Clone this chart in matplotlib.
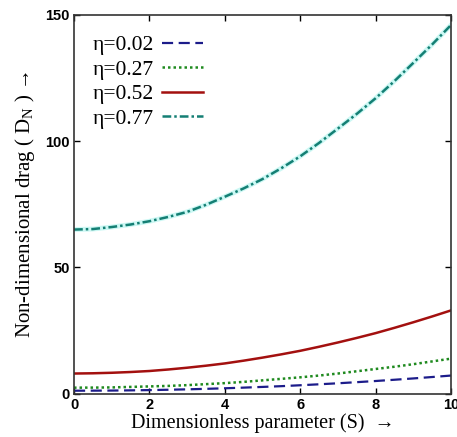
import matplotlib
matplotlib.use("Agg")
import matplotlib.pyplot as plt

# Dimensionless parameter S and drag values for each eta
S = [0, 0.5, 1, 1.5, 2, 2.5, 3, 3.5, 4, 4.5, 5, 5.5, 6, 6.5, 7, 7.5, 8, 8.5, 9, 9.5, 10]
drag_002 = [1.2, 1.22, 1.26, 1.34, 1.44, 1.58, 1.74, 1.94, 2.16, 2.42, 2.7,
            3.0, 3.36, 3.74, 4.14, 4.58, 5.04, 5.54, 6.06, 6.62, 7.2]
drag_027 = [2.4, 2.43, 2.5, 2.7, 2.9, 3.1, 3.4, 3.8, 4.2, 4.7, 5.3,
            5.9, 6.5, 7.2, 8.0, 8.9, 9.8, 10.7, 11.7, 12.8, 13.9]
drag_052 = [8.0, 8.1, 8.3, 8.6, 9.0, 9.6, 10.3, 11.1, 12.0, 13.1, 14.3,
            15.6, 17.0, 18.6, 20.3, 22.1, 24.0, 26.1, 28.3, 30.6, 33.0]
drag_077 = [65.0, 65.2, 66.0, 67.0, 68.3, 70.0, 72.0, 74.8, 78.0, 81.3, 85.0,
            89.3, 94.0, 99.3, 105.0, 110.8, 117.0, 123.8, 131.0, 138.3, 146.0]
labels = ["η=0.02", "η=0.27", "η=0.52", "η=0.77"]

fig = plt.figure(figsize=(4.57, 4.37), dpi=100)
ax = fig.add_axes([0.162, 0.099, 0.825, 0.867])

ax.plot(S, drag_002, color="#1c1c8a", ls=(0, (5, 2.5)), lw=1.6, label=labels[0])
ax.plot(S, drag_027, color="#1f8a1f", ls=(0, (1, 1.2)), lw=1.8, label=labels[1])
ax.plot(S, drag_052, color="#a3100f", ls="-", lw=1.8, label=labels[2])
# soft halo under the teal curve
ax.plot(S, drag_077, color="#8ff0e8", ls="-", lw=3.5, alpha=0.45)
ax.plot(S, drag_077, color="#147f74", ls=(0, (3.5, 1.2, 1, 1.2)), lw=1.8, label=labels[3])

ax.set_xlim(0, 10)
ax.set_ylim(0, 150)
ax.set_xticks([0, 2, 4, 6, 8, 10])
ax.set_yticks([0, 50, 100, 150])
ax.tick_params(direction="in", top=True, right=True, length=4, width=1,
               labelsize=10.5, pad=3)
for lab in ax.get_xticklabels() + ax.get_yticklabels():
    lab.set_fontweight("bold")
    lab.set_family("Liberation Sans")
for sp in ax.spines.values():
    sp.set_linewidth(1.2)
    sp.set_color("#333333")

ax.set_xlabel("Dimensionless parameter (S)  →", family="Liberation Serif",
              fontsize=14.5, labelpad=1)
ax.set_ylabel("Non-dimensional drag ( D$_{\\mathregular{N}}$ ) →",
              family="Liberation Serif", fontsize=15, labelpad=6)

leg = ax.legend(loc="upper left", frameon=False, markerfirst=False,
                prop={"family": "Liberation Serif", "size": 15.5},
                handlelength=1.9, handletextpad=0.4, labelspacing=0.2,
                bbox_to_anchor=(0.015, 0.98), borderaxespad=0.2)

fig.savefig("out.png", dpi=100)
